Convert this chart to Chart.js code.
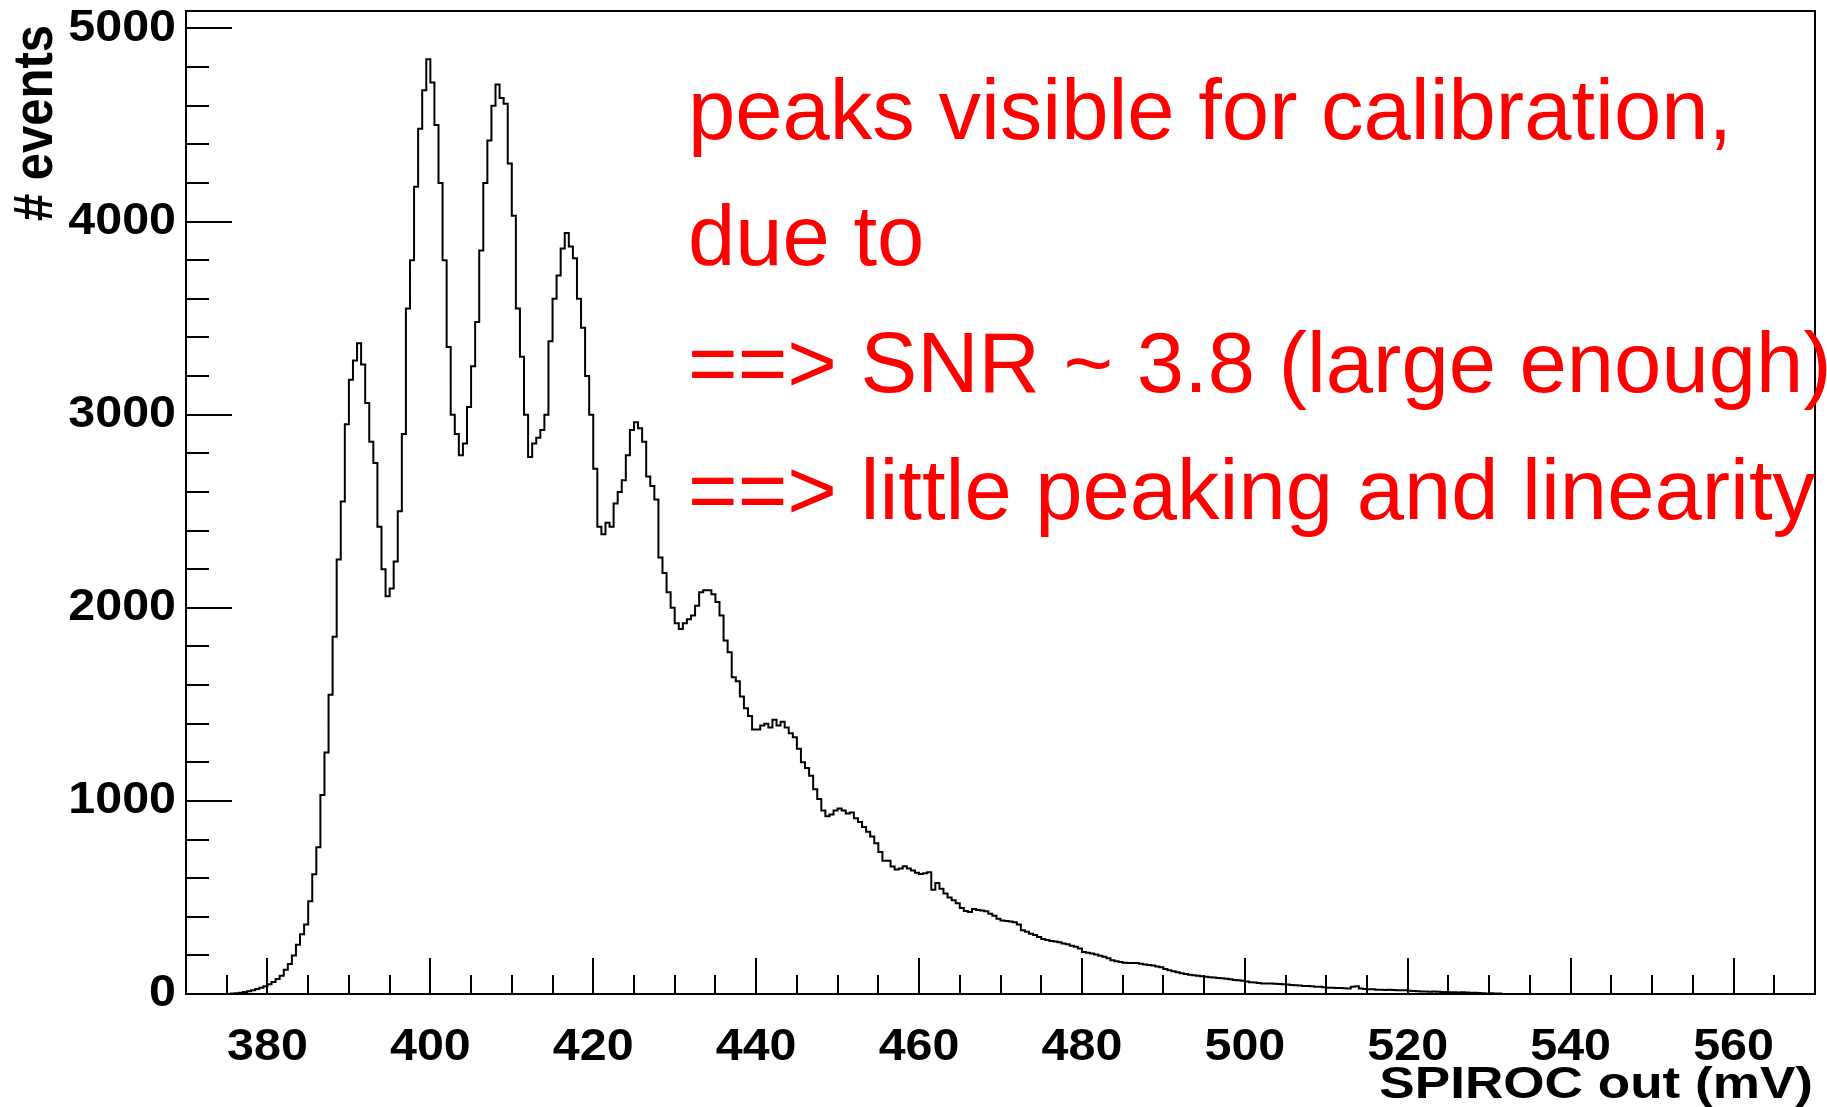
<!DOCTYPE html>
<html lang="en">
<head>
  <meta charset="UTF-8">
  <title>SPIROC out</title>
  <script src="https://cdn.jsdelivr.net/npm/chart.js"></script>
  <style>
    body { margin: 0; background: #fff; }
    canvas { display: block; }
  </style>
</head>
<body>
  <canvas id="spiroc" width="1827" height="1107"></canvas>

  <script>
    // histogram: 0.5 mV bins starting at 370 mV
    const binStart = 370;
    const binWidth = 0.5;
    const counts = [
      0, 0, 0, 0, 0, 0, 0, 0, 0, 0,
      0, 2, 4, 6, 10, 14, 20, 26, 32, 40,
      50, 62, 78, 95, 125, 155, 200, 255, 310, 360,
      480, 620, 760, 1030, 1250, 1550, 1850, 2250, 2550, 2950,
      3180, 3280, 3370, 3260, 3060, 2860, 2750, 2420, 2200, 2060,
      2100, 2240, 2500, 2900, 3550, 3800, 4180, 4480, 4680, 4840,
      4720, 4500, 4200, 3800, 3350, 3000, 2900, 2790, 2850, 3040,
      3250, 3480, 3850, 4200, 4420, 4600, 4710, 4640, 4610, 4300,
      4030, 3550, 3300, 3000, 2780, 2850, 2880, 2920, 3000, 3380,
      3600, 3720, 3860, 3940, 3870, 3810, 3600, 3450, 3200, 3000,
      2720, 2420, 2380, 2440, 2420, 2540, 2600, 2660, 2790, 2920,
      2960, 2930, 2860, 2680, 2630, 2560, 2260, 2180, 2080, 2000,
      1920, 1890, 1920, 1940, 1960, 2010, 2080, 2090, 2090, 2070,
      2030, 1960, 1830, 1770, 1640, 1620, 1540, 1480, 1440, 1370,
      1370, 1390, 1400, 1380, 1420, 1390, 1410, 1380, 1350, 1330,
      1270, 1200, 1170, 1130, 1060, 1010, 950, 920, 930, 950,
      960, 950, 935, 940, 910, 890, 865, 840, 815, 780,
      735, 690, 690, 660, 645, 650, 662, 650, 640, 628,
      622, 625, 630, 540, 575, 545, 520, 500, 485, 470,
      445, 430, 425, 440, 435, 432, 428, 415, 405, 390,
      380, 378, 375, 372, 360, 330, 322, 312, 305, 295,
      285, 280, 275, 272, 268, 262, 258, 250, 245, 235,
      218, 214, 210, 205, 198, 193, 185, 175, 170, 166,
      162, 161, 160, 161, 156, 153, 150, 147, 143, 138,
      130, 123, 118, 112, 108, 104, 100, 97, 94, 92,
      89, 87, 85, 83, 82, 79, 76, 73, 71, 69,
      65, 61, 59, 57, 55, 54, 54, 53, 52, 50,
      49, 47, 45, 44, 42, 41, 40, 38, 37, 35,
      33, 32, 31, 31, 30, 29, 38, 40, 28, 26,
      25, 24, 22, 22, 21, 22, 21, 20, 19, 19,
      17, 15, 14, 13, 13, 12, 13, 12, 11, 10,
      9, 9, 8, 9, 8, 7, 7, 5, 4, 3,
      4, 2, 3, 0
    ];

    const xRange = [370, 570];
    const yRange = [0, 5090];
    const xTickLabels = [380, 400, 420, 440, 460, 480, 500, 520, 540, 560];
    const yTickLabels = [0, 1000, 2000, 3000, 4000, 5000];
    const xMinorStep = 5;
    const yMinorStep = 200;

    const notes = [
      'peaks visible for calibration,',
      'due to',
      '==> SNR ~ 3.8 (large enough)',
      '==> little peaking and linearity'
    ];

    const points = counts.map((c, i) => ({ x: binStart + i * binWidth, y: c }));
    points.push({ x: binStart + counts.length * binWidth, y: 0 });

    // draw text stretched horizontally
    function wideText(ctx, text, x, y, sx, align) {
      ctx.save();
      ctx.translate(x, y);
      ctx.scale(sx, 1);
      ctx.textAlign = align;
      ctx.fillText(text, 0, 0);
      ctx.restore();
    }

    // ROOT style frame, inward ticks, labels and notes
    const rootFrame = {
      id: 'rootFrame',
      afterDatasetsDraw(chart) {
        const { ctx, chartArea: a, scales: { x, y } } = chart;
        ctx.save();
        ctx.strokeStyle = '#000';
        ctx.lineWidth = 2;
        ctx.strokeRect(a.left, a.top, a.right - a.left, a.bottom - a.top);

        ctx.beginPath();
        for (let v = yRange[0]; v <= yRange[1]; v += yMinorStep) {
          const py = Math.round(y.getPixelForValue(v));
          const len = v % 1000 === 0 ? 46 : 23;
          ctx.moveTo(a.left, py);
          ctx.lineTo(a.left + len, py);
        }
        for (let v = xRange[0]; v <= xRange[1]; v += xMinorStep) {
          const px = Math.round(x.getPixelForValue(v));
          const len = v % 20 === 0 ? 36 : 19;
          ctx.moveTo(px, a.bottom);
          ctx.lineTo(px, a.bottom - len);
        }
        ctx.stroke();

        ctx.fillStyle = '#000';
        ctx.font = 'bold 44px "Liberation Sans", Arial, sans-serif';
        ctx.textBaseline = 'middle';
        yTickLabels.forEach(v => {
          wideText(ctx, String(v), 176, y.getPixelForValue(v), 1.1, 'right');
        });
        xTickLabels.forEach(v => {
          wideText(ctx, String(v), x.getPixelForValue(v), 1048, 1.1, 'center');
        });

        ctx.textBaseline = 'alphabetic';
        ctx.font = 'bold 45px "Liberation Sans", Arial, sans-serif';
        wideText(ctx, 'SPIROC out (mV)', 1813, 1098, 1.18, 'right');

        ctx.save();
        ctx.translate(52, 25);
        ctx.rotate(-Math.PI / 2);
        ctx.scale(1, 1.15);
        ctx.font = 'bold 49px "Liberation Sans", Arial, sans-serif';
        ctx.textAlign = 'right';
        ctx.fillText('# events', 0, 0);
        ctx.restore();

        ctx.fillStyle = '#ff0000';
        ctx.font = '85px "Liberation Sans", Arial, sans-serif';
        ctx.textAlign = 'left';
        const baselines = [139, 265, 392, 519];
        notes.forEach((t, i) => ctx.fillText(t, 688, baselines[i]));
        ctx.restore();
      }
    };

    new Chart(document.getElementById('spiroc'), {
      type: 'line',
      data: {
        datasets: [{
          data: points,
          stepped: 'before',
          borderColor: '#000',
          borderWidth: 2,
          pointRadius: 0,
          fill: false
        }]
      },
      options: {
        responsive: false,
        animation: false,
        layout: { padding: { left: 186, right: 12, top: 11, bottom: 113 } },
        scales: {
          x: { type: 'linear', min: xRange[0], max: xRange[1], display: false },
          y: { type: 'linear', min: yRange[0], max: yRange[1], display: false }
        },
        plugins: {
          legend: { display: false },
          tooltip: { enabled: false }
        }
      },
      plugins: [rootFrame]
    });
  </script>
</body>
</html>
